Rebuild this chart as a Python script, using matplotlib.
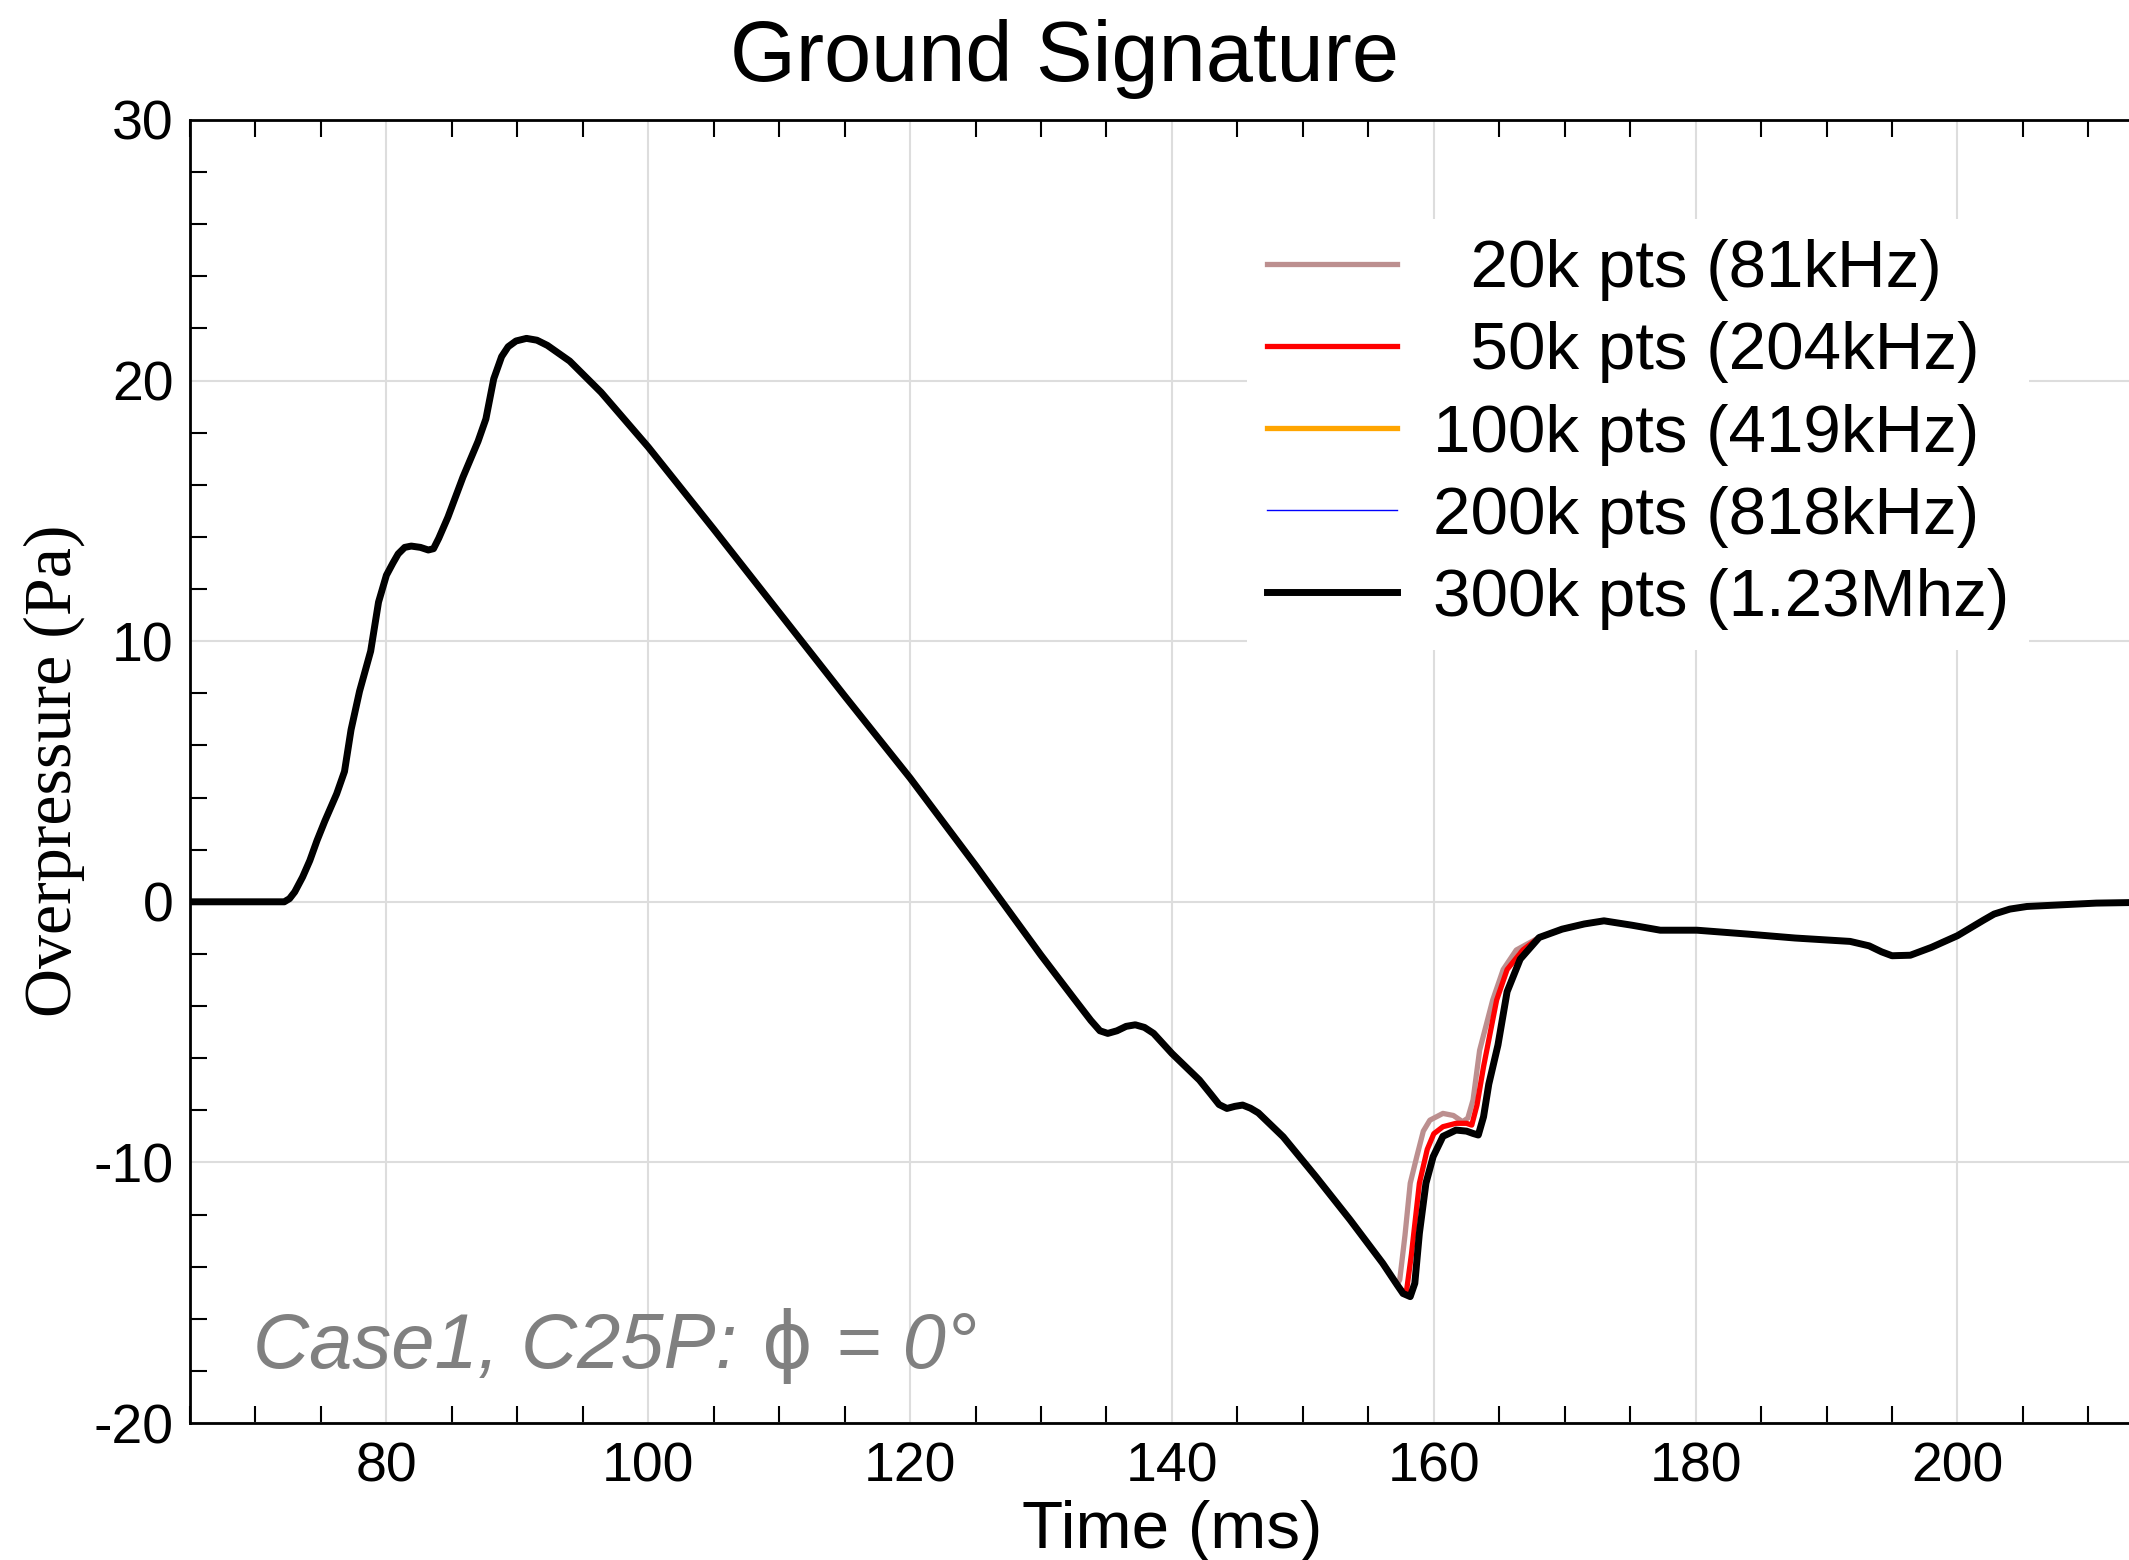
import matplotlib
matplotlib.use('Agg')
import matplotlib.pyplot as plt
from matplotlib.ticker import MultipleLocator

plt.rcParams['font.family'] = ['Liberation Sans', 'DejaVu Sans']
plt.rcParams['axes.unicode_minus'] = False

# part of the signature where all resolutions agree (time in ms, overpressure in Pa)
t_pre = [65.0, 72.2, 72.6, 73.0, 73.6, 74.15, 74.7, 75.3, 76.2, 76.8, 77.3, 77.95, 78.8,
         79.4, 80.0, 80.5, 80.9, 81.4, 81.9, 82.6, 83.2, 83.6, 84.0, 84.7, 85.85, 87.0,
         87.6, 88.2, 88.8, 89.3, 89.9, 90.7, 91.5, 92.3, 94.0, 96.4, 100.0, 105.0,
         110.0, 115.0, 120.0, 125.0, 130.0, 132.5, 133.8, 134.5, 135.1, 135.8, 136.5,
         137.2, 137.9, 138.6, 140.0, 142.1, 143.0, 143.6, 144.2, 144.8, 145.4, 146.0,
         146.6, 148.5, 151.0, 153.6, 156.1, 157.2]
p_pre = [0.0, 0.0, 0.12, 0.38, 0.95, 1.58, 2.35, 3.1, 4.14, 5.0, 6.6, 8.08, 9.62,
         11.5, 12.53, 13.0, 13.35, 13.6, 13.65, 13.6, 13.5, 13.55, 13.95, 14.76, 16.3,
         17.67, 18.53, 20.07, 20.92, 21.3, 21.52, 21.62, 21.55, 21.35, 20.75, 19.55,
         17.45, 14.3, 11.1, 7.9, 4.75, 1.4, -2.05, -3.7, -4.55, -4.95, -5.05, -4.95,
         -4.78, -4.72, -4.82, -5.05, -5.82, -6.84, -7.4, -7.78, -7.93, -7.85, -7.8,
         -7.92, -8.1, -9.02, -10.55, -12.2, -13.87, -14.7]

# tail shock near 160 ms, differs by resolution
t_20k = [157.4, 157.8, 158.2, 158.7, 159.2, 159.7, 160.7, 161.5, 162.2, 162.6, 163.0,
         163.5, 164.5, 165.3, 166.3]
p_20k = [-14.5, -12.8, -10.8, -9.78, -8.8, -8.38, -8.12, -8.2, -8.44, -8.3, -7.6,
         -5.7, -3.77, -2.6, -1.85]
t_50k = [157.65, 157.9, 158.3, 158.9, 159.5, 160.0, 160.7, 161.7, 162.5, 162.9, 163.3,
         163.8, 164.8, 165.6, 166.8]
p_50k = [-14.95, -15.0, -13.5, -10.8, -9.5, -8.9, -8.63, -8.5, -8.5, -8.57, -7.8,
         -6.33, -3.77, -2.6, -1.85]
t_fine = [157.65, 158.2, 158.55, 158.9, 159.4, 159.95, 160.7, 161.7, 162.5, 163.0,
          163.4, 163.8, 164.2, 164.9, 165.6, 166.6]
p_fine = [-15.03, -15.15, -14.64, -12.72, -10.8, -9.78, -9.0, -8.76, -8.8, -8.89,
          -8.95, -8.25, -7.0, -5.5, -3.45, -2.2]

# recovery, all resolutions agree again
t_post = [168.05, 169.8, 171.5, 173.0, 175.15, 177.3, 180.1, 184.0, 187.6, 191.8,
          193.25, 194.2, 195.0, 196.4, 198.0, 200.0, 202.0, 202.8, 204.0, 205.3,
          210.6, 213.1]
p_post = [-1.37, -1.05, -0.85, -0.73, -0.9, -1.09, -1.09, -1.24, -1.39, -1.52,
          -1.69, -1.92, -2.07, -2.05, -1.75, -1.3, -0.7, -0.47, -0.28, -0.18,
          -0.05, -0.03]

labels = ['  20k pts (81kHz)', '  50k pts (204kHz)', '100k pts (419kHz)',
          '200k pts (818kHz)', '300k pts (1.23Mhz)']
times = [t_pre + t_20k + t_post, t_pre + t_50k + t_post, t_pre + t_fine + t_post,
         t_pre + t_fine + t_post, t_pre + t_fine + t_post]
press = [p_pre + p_20k + p_post, p_pre + p_50k + p_post, p_pre + p_fine + p_post,
         p_pre + p_fine + p_post, p_pre + p_fine + p_post]
colors = ['#bc8f8f', '#ff0000', '#ffa500', '#0000ff', '#000000']
widths = [3.8, 3.8, 3.8, 1.0, 5.0]

fig = plt.figure(figsize=(21.29, 15.6), dpi=100)
ax = fig.add_axes([190/2129, 1-1423/1560, 1-190/2129, (1423-120)/1560])

for t, p, c, w, lab in zip(times, press, colors, widths, labels):
    ax.plot(t, p, color=c, lw=w, label=lab, solid_joinstyle='round')

ax.set_xlim(65, 213.1)
ax.set_ylim(-20, 30)
ax.xaxis.set_major_locator(MultipleLocator(20))
ax.xaxis.set_minor_locator(MultipleLocator(5))
ax.yaxis.set_major_locator(MultipleLocator(10))
ax.yaxis.set_minor_locator(MultipleLocator(2))
ax.tick_params(which='major', length=0, labelsize=40)
ax.tick_params(axis='x', which='major', pad=13)
ax.tick_params(axis='y', which='major', pad=12)
ax.tick_params(which='minor', direction='in', length=12, width=1.5,
               top=True, bottom=True, left=True, right=False)
ax.grid(which='major', color='#dddddd', lw=1.5)
ax.set_axisbelow(True)
ax.spines['right'].set_visible(False)
for s in ['left', 'top', 'bottom']:
    ax.spines[s].set_linewidth(2)

fig.text(0.5, 1-81/1560, 'Ground Signature', ha='center', va='baseline', fontsize=61)
fig.text(1172/2129, 1-1548/1560, 'Time (ms)', ha='center', va='baseline', fontsize=48.5)
fig.text(54/2129, 0.506, 'Overpressure (Pa)', family='Liberation Serif', rotation=90,
         ha='center', va='center', fontsize=49)

gray = '#808080'
t1 = ax.text(69.84, -17.89, 'Case1, C25P:', style='italic', color=gray,
             fontsize=56, va='baseline')
t2 = ax.annotate(' \u03d5', xy=(1, 0), xycoords=t1, va='bottom', ha='left',
                 fontsize=56, color=gray, family=['DejaVu Sans'])
ax.annotate(' = 0\u00b0', xy=(1, 0), xycoords=t2, va='bottom', ha='left',
            fontsize=56, color=gray, style='italic')

ax.legend(loc='upper left', bbox_to_anchor=(1247/2129, 1-219/1560),
          bbox_transform=fig.transFigure, fontsize=48.5, frameon=True, fancybox=False,
          edgecolor='none', facecolor='white', framealpha=1, borderaxespad=0,
          borderpad=0.3, labelspacing=0.3, handlelength=1.93, handletextpad=0.53)

fig.savefig('out.png', dpi=100)
